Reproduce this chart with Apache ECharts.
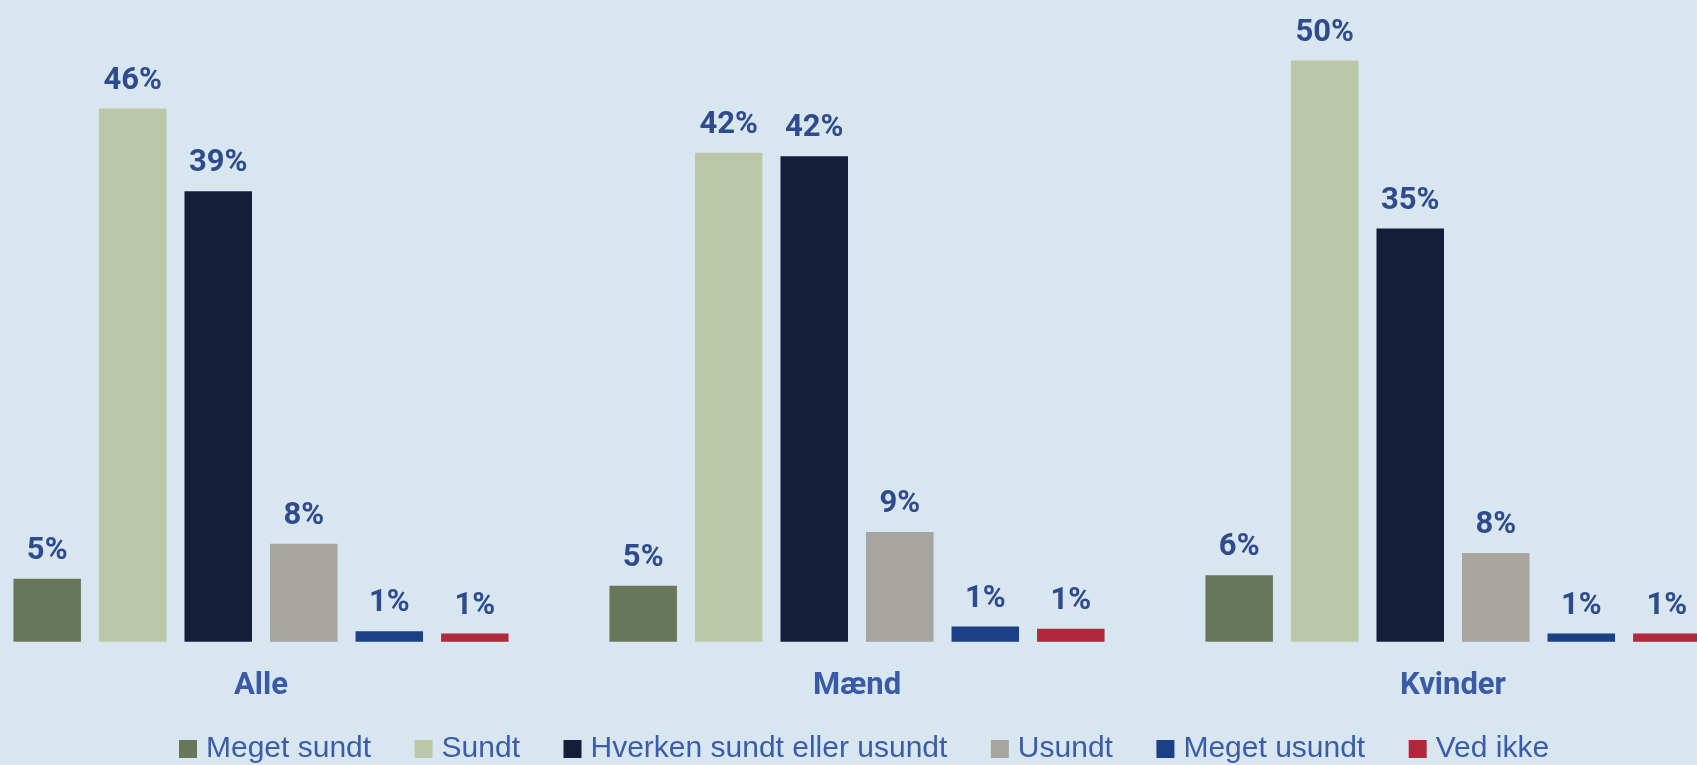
<!DOCTYPE html>
<html>
<head>
<meta charset="utf-8">
<script src="https://cdn.jsdelivr.net/npm/echarts@6/dist/echarts.min.js"></script>
<style>
  html, body { margin: 0; padding: 0; background: #D8E6EF; overflow: hidden; }
  /* plot is wider than the window: the outer bands are cropped as in the original */
  #chart { position: absolute; left: -37px; top: 0; width: 1788px; height: 765px; }
</style>
</head>
<body>
<div id="chart"></div>
<script>
var categories = ["Alle", "Mænd", "Kvinder"];
var seriesNames = ["Meget sundt", "Sundt", "Hverken sundt eller usundt", "Usundt", "Meget usundt", "Ved ikke"];
var colors = ["#68765A", "#BAC8A9", "#131F39", "#A6A59F", "#1A4185", "#B0283C"];

// shares in percent
var megetSundt = [5.4, 4.8, 5.7];
var sundt = [45.7, 41.9, 49.8];
var hverken = [38.6, 41.6, 35.4];
var usundt = [8.4, 9.4, 7.6];
var megetUsundt = [0.9, 1.3, 0.7];
var vedIkke = [0.7, 1.1, 0.7];

var values = [megetSundt, sundt, hverken, usundt, megetUsundt, vedIkke];

var chart = echarts.init(document.getElementById("chart"));

var series = seriesNames.map(function (name, i) {
  return {
    name: name,
    type: "bar",
    data: values[i],
    barWidth: 67.5,
    barGap: "26.7%",
    itemStyle: { color: colors[i] },
    label: {
      show: true,
      position: "top",
      distance: 12,
      color: "#2F4B8D",
      fontFamily: "Roboto",
      fontWeight: "bold",
      fontSize: 31,
      formatter: function (p) { return Math.round(p.value) + "%"; }
    }
  };
});

var option = {
  backgroundColor: "#D8E6EF",
  animation: false,
  grid: { left: 0, right: 0, top: 58.2, bottom: 123.3, containLabel: false },
  legend: {
    data: seriesNames,
    left: 211,
    top: 729,
    itemWidth: 18,
    itemHeight: 18,
    itemGap: 43.5,
    icon: "rect",
    textStyle: {
      color: "#3B5CAA",
      fontFamily: "Liberation Sans",
      fontSize: 30,
      padding: [0, 0, 0, 4]
    }
  },
  xAxis: {
    type: "category",
    data: categories,
    axisLine: { show: false },
    axisTick: { show: false },
    axisLabel: {
      margin: 29,
      color: "#3A5AA8",
      fontFamily: "Roboto",
      fontWeight: "bold",
      fontSize: 31
    }
  },
  yAxis: {
    type: "value",
    min: 0,
    max: 50,
    show: false,
    splitLine: { show: false }
  },
  series: series
};

chart.setOption(option);
</script>
</body>
</html>
